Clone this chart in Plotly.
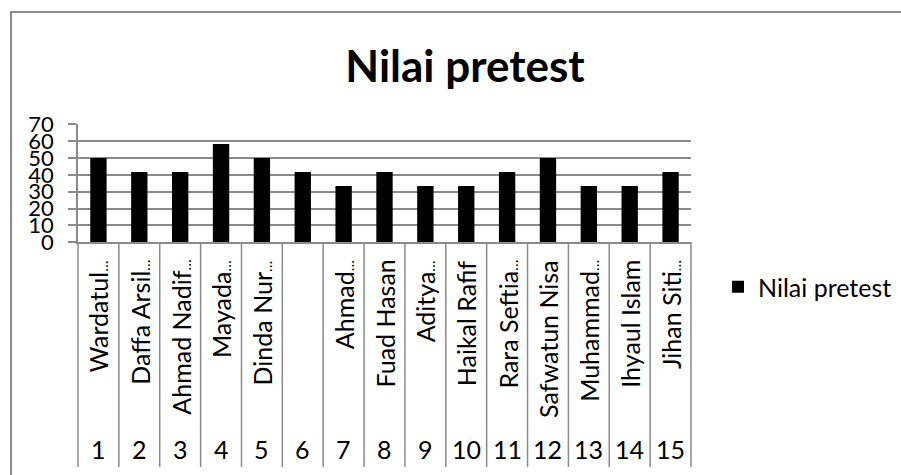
import plotly.graph_objects as go

# ---- data ----
numbers = [str(i) for i in range(1, 16)]
names = ["Wardatul…", "Daffa Arsil…", "Ahmad Nadif…", "Mayada…", "Dinda Nur…", "",
         "Ahmad…", "Fuad Hasan", "Aditya…", "Haikal Rafif", "Rara Seftia…",
         "Safwatun Nisa", "Muhammad…", "Ihyaul Islam", "Jihan Siti…"]
values = [50, 41.67, 41.67, 58.33, 50, 41.67, 33.33, 41.67, 33.33, 33.33,
          41.67, 50, 33.33, 33.33, 41.67]
series_name = "Nilai pretest"
chart_title = "Nilai pretest"
y_tickvals = [0, 10, 20, 30, 40, 50, 60, 70]

# ---- geometry helpers ----
W, H = 901, 475
def px_x(p):
    return p / W
def px_y(p):
    return 1 - p / H

FONT = "Lato, 'Open Sans', sans-serif"
FS = 25
GRAY = "#8a8a8a"
n = len(numbers)

def label_html(s):
    # render the truncation ellipsis compactly, as the spreadsheet does
    return s.replace("…", "<span style='font-size:15px'>…</span>")

fig = go.Figure()
fig.add_trace(go.Bar(x=list(range(n)), y=values, name=series_name,
                     marker=dict(color="#000000", line=dict(width=0)),
                     showlegend=True))

shapes = []
# outer chart border
shapes.append(dict(type="rect", xref="paper", yref="paper",
                   x0=px_x(11), x1=1.05, y0=-0.05, y1=px_y(12),
                   line=dict(color=GRAY, width=2), fillcolor="rgba(0,0,0,0)"))
# category separators of the multi-level axis
for k in range(n + 1):
    shapes.append(dict(type="line", xref="x domain", yref="paper",
                       x0=k / n, x1=k / n, y0=px_y(242), y1=px_y(467),
                       line=dict(color=GRAY, width=1.5)))

annotations = []
for i in range(n):
    if names[i]:
        annotations.append(dict(x=i, y=px_y(258), xref="x", yref="paper",
                                text=label_html(names[i]), textangle=-90, showarrow=False,
                                xanchor="center", yanchor="top",
                                font=dict(family=FONT, size=FS, color="#000")))
    annotations.append(dict(x=i, y=px_y(449), xref="x", yref="paper",
                            text=numbers[i], showarrow=False,
                            xanchor="center", yanchor="middle",
                            font=dict(family=FONT, size=FS, color="#000")))

fig.update_layout(
    width=W, height=H, autosize=False,
    margin=dict(l=0, r=0, t=0, b=0, pad=0, autoexpand=False),
    paper_bgcolor="white", plot_bgcolor="white",
    font=dict(family=FONT, size=FS, color="#000"),
    title=dict(text="<b>" + chart_title + "</b>", x=px_x(465), xanchor="center",
               y=px_y(67), yanchor="middle",
               font=dict(family=FONT, size=44, color="#000")),
    bargap=0.6,
    xaxis=dict(domain=[px_x(78), px_x(691)], range=[-0.5, n - 0.5],
               showticklabels=False, ticks="", showgrid=False, automargin=False,
               showline=True, linecolor=GRAY, linewidth=1.5, zeroline=False),
    yaxis=dict(domain=[px_y(242.3), px_y(124.3)], range=[0, 70],
               tickmode="array", tickvals=y_tickvals, automargin=False,
               showgrid=True, gridcolor=GRAY, gridwidth=1.5,
               showline=True, linecolor=GRAY, linewidth=1.5,
               ticks="outside", ticklen=8, tickcolor=GRAY, tickwidth=1.5,
               ticklabelstandoff=10, zeroline=False,
               tickfont=dict(family=FONT, size=22, color="#000")),
    legend=dict(x=px_x(718), xanchor="left", y=px_y(287), yanchor="middle",
                font=dict(family=FONT, size=FS, color="#000"),
                bgcolor="rgba(0,0,0,0)"),
    shapes=shapes,
    annotations=annotations,
)

fig.write_html("out.html", config={"displayModeBar": False},
               post_script="document.body.style.margin='0';document.body.style.padding='0';")
